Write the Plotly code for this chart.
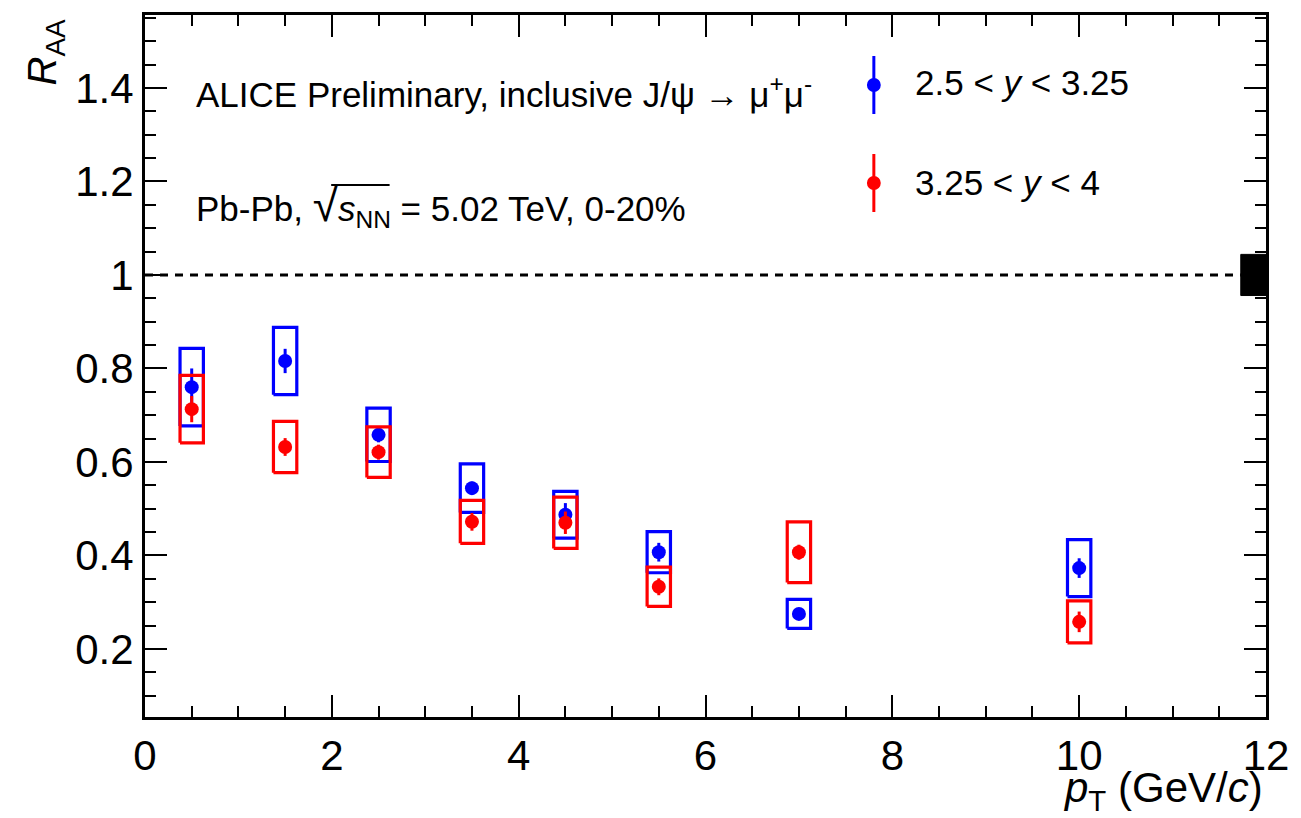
import plotly.graph_objects as go

# ---- data ----
pt_blue = [0.5, 1.5, 2.5, 3.5, 4.5, 5.5, 7.0, 10.0]
raa_blue = [0.760, 0.816, 0.658, 0.544, 0.487, 0.407, 0.275, 0.373]
stat_blue = [0.040, 0.026, 0.016, 0.014, 0.025, 0.020, 0.010, 0.021]
sys_blue = [0.083, 0.072, 0.057, 0.052, 0.050, 0.044, 0.031, 0.061]

pt_red = [0.5, 1.5, 2.5, 3.5, 4.5, 5.5, 7.0, 10.0]
raa_red = [0.713, 0.632, 0.621, 0.472, 0.470, 0.333, 0.407, 0.258]
stat_red = [0.028, 0.019, 0.016, 0.019, 0.024, 0.018, 0.016, 0.022]
sys_red = [0.072, 0.055, 0.054, 0.046, 0.055, 0.042, 0.065, 0.045]

box_halfwidth = 0.125
global_unc = 0.044
global_box_x = [11.73, 12.0]

label_blue = "2.5 < <i>y</i> < 3.25"
label_red = "3.25 < <i>y</i> < 4"

BLUE = "#0000ff"
RED = "#ff0000"
FONT = "Liberation Sans"

fig = go.Figure()


def add_series(xs, ys, stat, sysu, color):
    bx, by = [], []
    for x, y, s in zip(xs, ys, sysu):
        bx += [x - box_halfwidth, x + box_halfwidth, x + box_halfwidth, x - box_halfwidth, x - box_halfwidth, None]
        by += [y - s, y - s, y + s, y + s, y - s, None]
    fig.add_trace(go.Scatter(x=bx, y=by, mode="lines", line=dict(color=color, width=3.2),
                             showlegend=False, hoverinfo="skip"))
    fig.add_trace(go.Scatter(x=xs, y=ys, mode="markers",
                             marker=dict(color=color, size=14, line=dict(width=0)),
                             error_y=dict(type="data", array=stat, color=color, thickness=3, width=0),
                             showlegend=False))


add_series(pt_blue, raa_blue, stat_blue, sys_blue, BLUE)
add_series(pt_red, raa_red, stat_red, sys_red, RED)

# global uncertainty box at unity
fig.add_trace(go.Scatter(x=[global_box_x[0], global_box_x[1], global_box_x[1], global_box_x[0], global_box_x[0]],
                         y=[1 - global_unc, 1 - global_unc, 1 + global_unc, 1 + global_unc, 1 - global_unc],
                         mode="lines", fill="toself", fillcolor="black",
                         line=dict(color="black", width=1), showlegend=False, hoverinfo="skip"))

# dashed unity line
fig.add_shape(type="line", xref="x", yref="y", x0=0, x1=global_box_x[0], y0=1, y1=1,
              line=dict(color="black", width=3, dash="8px,7px"), layer="below")

# plot area in pixels
L, R, T, B = 145, 1277, 15, 717
W, H = R - L, B - T


def px(x):
    return (x - L) / W


def py(y):
    return (B - y) / H


# manual legend glyphs
for (yc, col) in [(85, BLUE), (183, RED)]:
    fig.add_shape(type="line", xref="paper", yref="paper", x0=px(881), x1=px(881),
                  y0=py(yc - 29), y1=py(yc + 29), line=dict(color=col, width=3))
    fig.add_shape(type="circle", xref="paper", yref="paper", x0=px(874), x1=px(888),
                  y0=py(yc - 7), y1=py(yc + 7), fillcolor=col, line=dict(color=col, width=0))

ann_font = dict(family=FONT, size=35, color="black")
leg_font = dict(family=FONT, size=35, color="black")
fig.add_annotation(xref="paper", yref="paper", x=px(921), y=py(83), xanchor="left", yanchor="middle",
                   text=label_blue, showarrow=False, font=leg_font)
fig.add_annotation(xref="paper", yref="paper", x=px(921), y=py(182), xanchor="left", yanchor="middle",
                   text=label_red, showarrow=False, font=leg_font)

fig.add_annotation(xref="paper", yref="paper", x=px(194), y=py(92), xanchor="left", yanchor="middle",
                   text="ALICE Preliminary, inclusive J/ψ → μ<sup>+</sup>μ<sup>-</sup>",
                   showarrow=False, font=ann_font)
fig.add_annotation(xref="paper", yref="paper", x=px(194), y=py(206), xanchor="left", yanchor="middle",
                   text="Pb-Pb, <span style='font-size:46px'>√</span><i>s</i><sub>NN</sub> = 5.02 TeV, 0-20%",
                   showarrow=False, font=ann_font)
# overline of the square root
fig.add_shape(type="line", xref="paper", yref="paper", x0=px(333), x1=px(392), y0=py(185), y1=py(185),
              line=dict(color="black", width=2))

# axis titles
fig.add_annotation(xref="paper", yref="paper", x=px(1276), y=py(790), xanchor="right", yanchor="middle",
                   text="<i>p</i><sub>T</sub> (GeV/<i>c</i>)", showarrow=False,
                   font=dict(family=FONT, size=42, color="black"))
fig.add_annotation(xref="paper", yref="paper", x=px(44), y=py(16), xanchor="center", yanchor="top",
                   text="<i>R</i><sub>AA</sub>", textangle=-90, showarrow=False,
                   font=dict(family=FONT, size=40, color="black"))

axis_common = dict(showline=True, linecolor="black", linewidth=3, mirror="allticks",
                   ticks="inside", ticklen=22, tickwidth=2, tickcolor="black",
                   showgrid=False, zeroline=False,
                   tickfont=dict(family=FONT, size=42, color="black"))

fig.update_xaxes(range=[0, 12], dtick=2, tick0=0,
                 minor=dict(dtick=0.5, ticks="inside", ticklen=11, tickwidth=2, tickcolor="black", showgrid=False),
                 **axis_common)
fig.update_yaxes(range=[0.0545, 1.556], dtick=0.2, tick0=0,
                 minor=dict(dtick=0.05, ticks="inside", ticklen=11, tickwidth=2, tickcolor="black", showgrid=False),
                 **axis_common)

fig.update_layout(width=1301, height=818, margin=dict(l=L, r=1301 - R, t=T, b=818 - B),
                  paper_bgcolor="white", plot_bgcolor="white", showlegend=False)

fig.write_html("out.html")
